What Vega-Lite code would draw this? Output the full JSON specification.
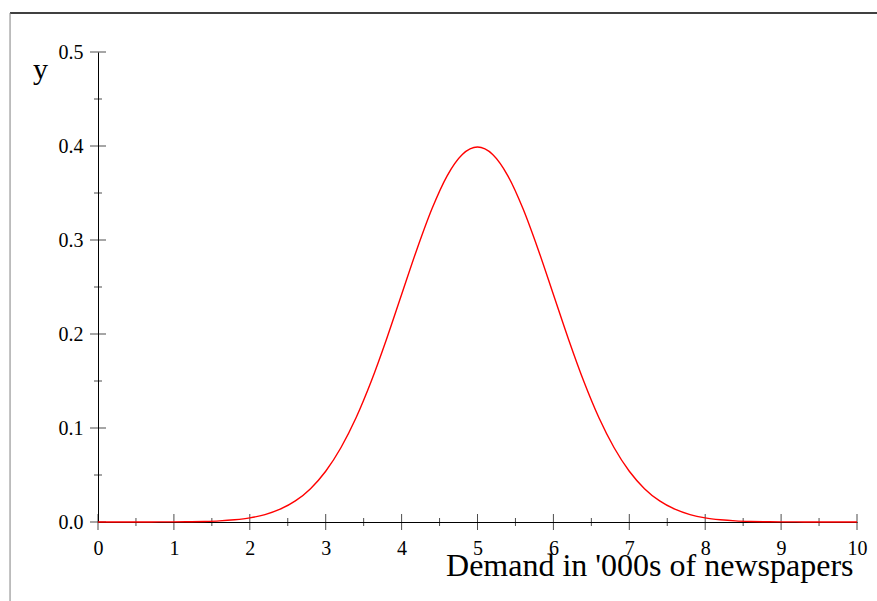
{
  "$schema": "https://vega.github.io/schema/vega-lite/v6.json",
  "width": 759,
  "height": 470,
  "autosize": {"type": "none"},
  "padding": {"left": 98, "top": 52, "right": 20, "bottom": 79},
  "background": "white",
  "config": {"view": {"stroke": null}, "font": "Liberation Serif"},
  "datasets": {
    "curve": [
      {"x": 0.0, "y": 0.0}, {"x": 0.2, "y": 0.0}, {"x": 0.4, "y": 0.0}, {"x": 0.6, "y": 0.0},
      {"x": 0.8, "y": 0.0001}, {"x": 1.0, "y": 0.0001}, {"x": 1.2, "y": 0.0003}, {"x": 1.4, "y": 0.0006},
      {"x": 1.6, "y": 0.0012}, {"x": 1.8, "y": 0.0024}, {"x": 2.0, "y": 0.0044}, {"x": 2.2, "y": 0.0079},
      {"x": 2.4, "y": 0.0136}, {"x": 2.6, "y": 0.0224}, {"x": 2.8, "y": 0.0355}, {"x": 3.0, "y": 0.054},
      {"x": 3.2, "y": 0.079}, {"x": 3.4, "y": 0.1109}, {"x": 3.6, "y": 0.1497}, {"x": 3.8, "y": 0.1942},
      {"x": 4.0, "y": 0.242}, {"x": 4.2, "y": 0.2897}, {"x": 4.4, "y": 0.3332}, {"x": 4.6, "y": 0.3683},
      {"x": 4.8, "y": 0.391}, {"x": 5.0, "y": 0.3989}, {"x": 5.2, "y": 0.391}, {"x": 5.4, "y": 0.3683},
      {"x": 5.6, "y": 0.3332}, {"x": 5.8, "y": 0.2897}, {"x": 6.0, "y": 0.242}, {"x": 6.2, "y": 0.1942},
      {"x": 6.4, "y": 0.1497}, {"x": 6.6, "y": 0.1109}, {"x": 6.8, "y": 0.079}, {"x": 7.0, "y": 0.054},
      {"x": 7.2, "y": 0.0355}, {"x": 7.4, "y": 0.0224}, {"x": 7.6, "y": 0.0136}, {"x": 7.8, "y": 0.0079},
      {"x": 8.0, "y": 0.0044}, {"x": 8.2, "y": 0.0024}, {"x": 8.4, "y": 0.0012}, {"x": 8.6, "y": 0.0006},
      {"x": 8.8, "y": 0.0003}, {"x": 9.0, "y": 0.0001}, {"x": 9.2, "y": 0.0001}, {"x": 9.4, "y": 0.0},
      {"x": 9.6, "y": 0.0}, {"x": 9.8, "y": 0.0}, {"x": 10.0, "y": 0.0}
    ],
    "xticks": [
      {"v": 0, "major": true}, {"v": 0.5, "major": false}, {"v": 1, "major": true}, {"v": 1.5, "major": false},
      {"v": 2, "major": true}, {"v": 2.5, "major": false}, {"v": 3, "major": true}, {"v": 3.5, "major": false},
      {"v": 4, "major": true}, {"v": 4.5, "major": false}, {"v": 5, "major": true}, {"v": 5.5, "major": false},
      {"v": 6, "major": true}, {"v": 6.5, "major": false}, {"v": 7, "major": true}, {"v": 7.5, "major": false},
      {"v": 8, "major": true}, {"v": 8.5, "major": false}, {"v": 9, "major": true}, {"v": 9.5, "major": false},
      {"v": 10, "major": true}
    ],
    "yticks": [
      {"v": 0, "major": true}, {"v": 0.05, "major": false}, {"v": 0.1, "major": true}, {"v": 0.15, "major": false},
      {"v": 0.2, "major": true}, {"v": 0.25, "major": false}, {"v": 0.3, "major": true}, {"v": 0.35, "major": false},
      {"v": 0.4, "major": true}, {"v": 0.45, "major": false}, {"v": 0.5, "major": true}
    ]
  },
  "layer": [
    {
      "data": {"values": [{}]},
      "mark": {"type": "rule", "color": "#000000", "strokeWidth": 1.5, "clip": false},
      "encoding": {
        "x": {"datum": -1.159, "type": "quantitative"},
        "x2": {"datum": 10.5},
        "y": {"datum": 0.5415, "type": "quantitative"}
      }
    },
    {
      "data": {"values": [{}]},
      "mark": {"type": "rule", "color": "#808080", "strokeWidth": 1, "clip": false},
      "encoding": {
        "x": {"datum": -1.159, "type": "quantitative"},
        "y": {"datum": 0.5415, "type": "quantitative"},
        "y2": {"datum": -0.1}
      }
    },
    {
      "data": {"name": "xticks"},
      "mark": {"type": "tick", "orient": "vertical", "color": "#000000", "thickness": 1, "clip": false},
      "encoding": {
        "x": {"field": "v", "type": "quantitative"},
        "y": {"datum": 0, "type": "quantitative"},
        "size": {"condition": {"test": "datum.major", "value": 16}, "value": 8}
      }
    },
    {
      "data": {"name": "yticks"},
      "mark": {"type": "tick", "orient": "horizontal", "color": "#000000", "thickness": 1, "clip": false},
      "encoding": {
        "y": {"field": "v", "type": "quantitative"},
        "x": {"datum": 0, "type": "quantitative"},
        "size": {"condition": {"test": "datum.major", "value": 16}, "value": 8}
      }
    },
    {
      "data": {"name": "curve"},
      "mark": {"type": "line", "color": "#ff0000", "strokeWidth": 1.4, "interpolate": "monotone"},
      "encoding": {
        "x": {
          "field": "x",
          "type": "quantitative",
          "scale": {"domain": [0, 10], "nice": false, "zero": false},
          "axis": {
            "values": [0, 1, 2, 3, 4, 5, 6, 7, 8, 9, 10],
            "format": "d",
            "ticks": false,
            "grid": false,
            "domainColor": "#000000",
            "domainWidth": 1,
            "labelFont": "Liberation Serif",
            "labelFontSize": 20,
            "labelColor": "#000000",
            "labelPadding": 16,
            "labelFlush": false,
            "title": "Demand in '000s of newspapers",
            "titleFont": "Liberation Serif",
            "titleFontSize": 32,
            "titleFontWeight": "normal",
            "titleColor": "#000000",
            "titleAnchor": "end",
            "titleAlign": "right",
            "titleBaseline": "alphabetic",
            "titleX": 755,
            "titleY": 53
          }
        },
        "y": {
          "field": "y",
          "type": "quantitative",
          "scale": {"domain": [0, 0.5], "nice": false},
          "axis": {
            "values": [0, 0.1, 0.2, 0.3, 0.4, 0.5],
            "format": ".1f",
            "ticks": false,
            "grid": false,
            "domainColor": "#000000",
            "domainWidth": 1,
            "labelFont": "Liberation Serif",
            "labelFontSize": 20,
            "labelColor": "#000000",
            "labelPadding": 15,
            "labelFlush": false,
            "title": "y",
            "titleFont": "Liberation Serif",
            "titleFontSize": 30,
            "titleFontWeight": "normal",
            "titleColor": "#000000",
            "titleAngle": 0,
            "titleAlign": "center",
            "titleBaseline": "alphabetic",
            "titleX": -58,
            "titleY": 26
          }
        }
      }
    }
  ]
}
